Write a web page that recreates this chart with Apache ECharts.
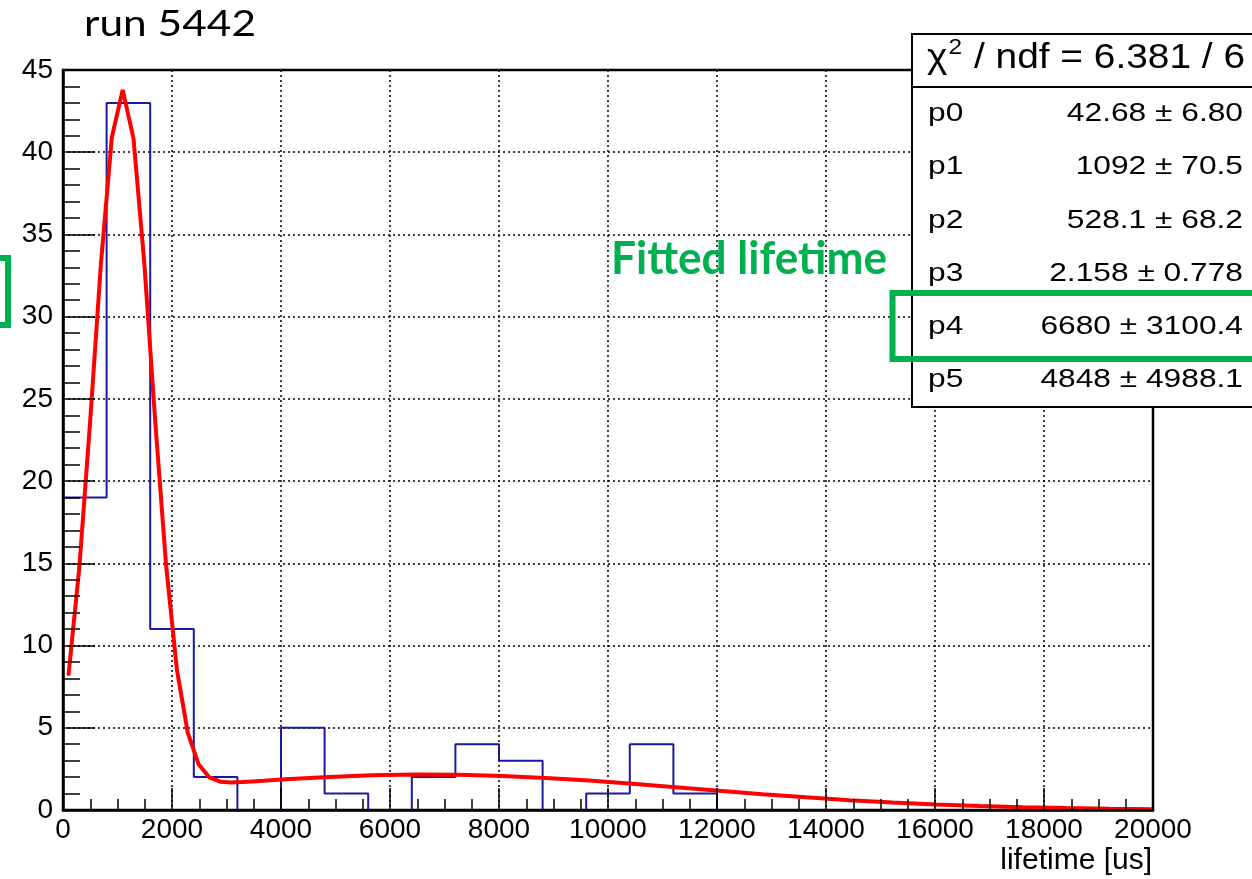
<!DOCTYPE html>
<html>
<head>
<meta charset="utf-8">
<script src="https://cdn.jsdelivr.net/npm/echarts@6/dist/echarts.min.js"></script>
<style>
  html, body { margin: 0; padding: 0; background: #ffffff; }
  #chart { width: 1252px; height: 879px; }
</style>
</head>
<body>
<div id="chart"></div>
<script>
// Lifetime histogram: 25 bins of 800 us between 0 and 20000 us
const binStart = 0;
const binWidth = 800;
const binCounts = [19, 43, 11, 2, 0, 5, 1, 0, 2, 4, 3, 0, 1, 4, 1, 0, 0, 0, 0, 0, 0, 0, 0, 0, 0];

// Fit curve (double gaussian) sampled along the lifetime axis
const fitX = [100, 299, 498, 697, 896, 1095, 1294, 1493, 1692, 1891, 2090, 2289, 2488, 2687, 2886,
              3085, 3284, 3483, 3682, 3881, 4080, 4876, 5672, 6468, 7264, 8060, 8856, 9652, 10448,
              11244, 12040, 12836, 13632, 14428, 15224, 16020, 16816, 17612, 18408, 19204, 20000];
const fitY = [8.17, 14.73, 23.63, 33.27, 40.90, 43.79, 40.83, 33.21, 23.65, 14.91, 8.53, 4.70, 2.78, 1.98, 1.72,
              1.67, 1.70, 1.74, 1.78, 1.83, 1.87, 2.01, 2.11, 2.16, 2.14, 2.07, 1.95, 1.79, 1.60,
              1.39, 1.17, 0.96, 0.77, 0.60, 0.46, 0.34, 0.24, 0.17, 0.12, 0.08, 0.05];

// Fit statistics
const chi2Value = '6.381';
const ndfValue = '6';
const parNames = ['p0', 'p1', 'p2', 'p3', 'p4', 'p5'];
const parValues = ['42.68', '1092', '528.1', '2.158', '6680', '4848'];
const parErrors = ['6.80', '70.5', '68.2', '0.778', '3100.4', '4988.1'];

// Axis ranges
const xMin = 0, xMax = 20000, xStep = 2000;
const yMin = 0, yMax = 45, yStep = 5;

const titleText = 'run 5442';
const xTitle = 'lifetime [us]';
const noteText = 'Fitted lifetime';

// Outline of the histogram as a step path
const histPath = [];
binCounts.forEach((c, i) => {
  const lo = binStart + i * binWidth, hi = lo + binWidth;
  histPath.push([lo, c], [hi, c]);
});

const fitPath = fitX.map((x, i) => [x, fitY[i]]);

const FONT = '"Liberation Sans", Arial, Helvetica, sans-serif';
const measureCtx = document.createElement('canvas').getContext('2d');
function textWidth(str, font) {
  measureCtx.font = font;
  return measureCtx.measureText(str).width;
}

function txt(opts) {
  const st = Object.assign({ fill: '#000' }, opts.style);
  if (st.align) st.textAlign = st.align;
  if (st.verticalAlign) st.textVerticalAlign = st.verticalAlign;
  return Object.assign({ type: 'text', z: 110, silent: true }, opts, { style: st });
}

// Title
const titleFont = '36px Lato';
const titleScale = 172 / textWidth(titleText, titleFont);

// Annotation
const noteFont = 'bold 45px Lato';
const noteScale = 276 / textWidth(noteText, noteFont);

// Stats box header pieces
const headFont = '35px ' + FONT;
const supFont = '22px ' + FONT;
const headRest = ' / ndf = ' + chi2Value + ' / ' + ndfValue;
const wChi = textWidth('\u03c7', headFont);
const wSup = textWidth('2', supFont);
const wRest = textWidth(headRest, headFont);
const headScale = 318 / (wChi + wSup + 2 + wRest);

const rowTop = 114, rowStep = 53.2;
const rowScale = 1.22;

const graphics = [];
// stats box frame
graphics.push({ type: 'rect', z: 100, silent: true,
  shape: { x: 912, y: 34, width: 400, height: 373 },
  style: { fill: '#fff', stroke: '#000', lineWidth: 2 } });
graphics.push({ type: 'line', z: 101, silent: true,
  shape: { x1: 912, y1: 87, x2: 1300, y2: 87 },
  style: { stroke: '#000', lineWidth: 2 } });
// header
graphics.push({ type: 'group', x: 927, y: 58, scaleX: headScale, z: 110, children: [
  txt({ x: 0, y: 0, style: { text: '\u03c7', font: headFont, align: 'left', verticalAlign: 'middle' } }),
  txt({ x: wChi + 1, y: -10, style: { text: '2', font: supFont, align: 'left', verticalAlign: 'middle' } }),
  txt({ x: wChi + wSup + 2, y: 0, style: { text: headRest, font: headFont, align: 'left', verticalAlign: 'middle' } })
] });
// parameter rows
parNames.forEach((p, i) => {
  const y = rowTop + i * rowStep;
  graphics.push(txt({ x: 928, y: y, scaleX: rowScale,
    style: { text: p, font: '26px ' + FONT, align: 'left', verticalAlign: 'middle' } }));
  graphics.push(txt({ x: 1243, y: y, scaleX: rowScale,
    style: { text: parValues[i] + ' \u00b1 ' + parErrors[i], font: '26px ' + FONT, align: 'right', verticalAlign: 'middle' } }));
});
// highlight boxes
graphics.push({ type: 'rect', z: 120, silent: true,
  shape: { x: 892.5, y: 293, width: 420, height: 66 },
  style: { fill: 'none', stroke: '#00b050', lineWidth: 6 } });
graphics.push({ type: 'rect', z: 120, silent: true,
  shape: { x: -60, y: 258, width: 68, height: 67 },
  style: { fill: 'none', stroke: '#00b050', lineWidth: 6 } });
// texts
graphics.push(txt({ x: 84, y: 24, scaleX: titleScale,
  style: { text: titleText, font: titleFont, align: 'left', verticalAlign: 'middle' } }));
graphics.push(txt({ x: 611, y: 259, scaleX: noteScale,
  style: { text: noteText, font: noteFont, fill: '#00b050', align: 'left', verticalAlign: 'middle' } }));
graphics.push(txt({ x: 1152, y: 861,
  style: { text: xTitle, font: '30px ' + FONT, align: 'right', verticalAlign: 'middle' } }));

const gridLine = { show: true, lineStyle: { color: '#000', width: 1.5, type: [2, 3] } };
const hidden = { show: false };

const option = {
  animation: false,
  backgroundColor: '#ffffff',
  grid: { left: 63, right: 99, top: 70, bottom: 69, show: true, borderColor: '#000', borderWidth: 2.5, containLabel: false },
  xAxis: [
    // dotted grid, drawn underneath the data
    { type: 'value', min: xMin, max: xMax, interval: xStep, position: 'top', z: 0,
      axisLine: hidden, axisTick: hidden, minorTick: hidden, axisLabel: hidden, splitLine: gridLine },
    // frame axis with ticks and labels, drawn above the data
    { type: 'value', min: xMin, max: xMax, interval: xStep, position: 'bottom', z: 5,
      axisLine: { show: true, onZero: false, lineStyle: { color: '#000', width: 2.5 } },
      axisTick: { show: true, inside: true, length: 22, lineStyle: { color: '#000', width: 1.5 } },
      minorTick: { show: true, splitNumber: 4, length: 11, lineStyle: { color: '#000', width: 1.5 } },
      axisLabel: { color: '#000', fontSize: 28, fontFamily: FONT, margin: 6, formatter: v => String(v) },
      splitLine: hidden }
  ],
  yAxis: [
    { type: 'value', min: yMin, max: yMax, interval: yStep, position: 'right', z: 0,
      axisLine: hidden, axisTick: hidden, minorTick: hidden, axisLabel: hidden, splitLine: gridLine },
    { type: 'value', min: yMin, max: yMax, interval: yStep, position: 'left', z: 5,
      axisLine: { show: true, onZero: false, lineStyle: { color: '#000', width: 2.5 } },
      axisTick: { show: true, inside: true, length: 32, lineStyle: { color: '#000', width: 1.5 } },
      minorTick: { show: true, splitNumber: 5, length: 17, lineStyle: { color: '#000', width: 1.5 } },
      axisLabel: { color: '#000', fontSize: 28, fontFamily: FONT, margin: 10, formatter: v => String(v) },
      splitLine: hidden }
  ],
  series: [
    { type: 'line', xAxisIndex: 1, yAxisIndex: 1, data: histPath, symbol: 'none', z: 2,
      lineStyle: { color: '#1a1aa0', width: 2 } },
    { type: 'line', xAxisIndex: 1, yAxisIndex: 1, data: fitPath, symbol: 'none', z: 3,
      lineStyle: { color: '#ff0000', width: 4 } }
  ],
  graphic: { elements: graphics }
};

const chart = echarts.init(document.getElementById('chart'), null, { renderer: 'canvas' });
chart.setOption(option);
</script>
</body>
</html>
